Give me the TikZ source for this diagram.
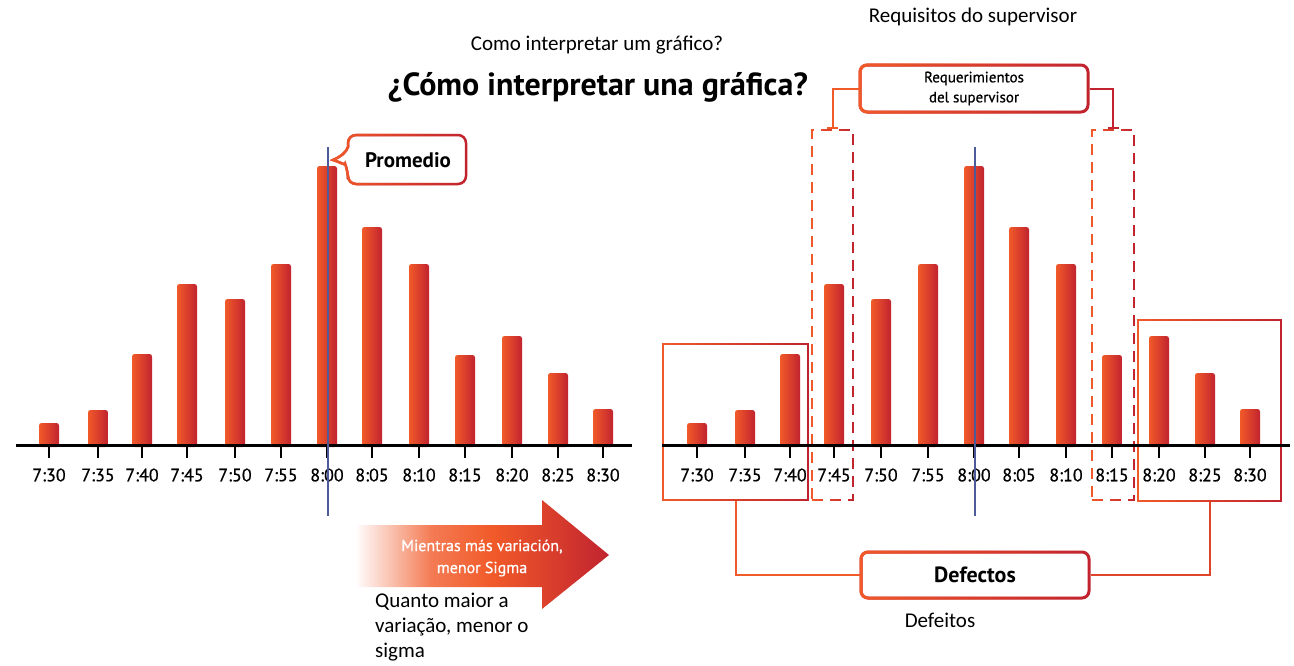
\documentclass[tikz,border=0pt]{standalone}
\usepackage{fontspec}
\setmainfont{PT Sans}
\newfontfamily\calfont{Carlito}
\newfontfamily\medfont[FakeBold=0.7]{PT Sans}
\usetikzlibrary{fadings,arrows.meta}
\definecolor{cO}{HTML}{F15A29}
\definecolor{cR}{HTML}{C1232F}
\definecolor{cM}{HTML}{E0452B}
\definecolor{cL}{HTML}{4D5B99}
\pgfdeclarehorizontalshading{arrsh}{100bp}{color(0bp)=(white); color(25bp)=(white); color(40bp)=(cO!80!white); color(52bp)=(cO); color(75bp)=(cR); color(100bp)=(cR)}
\tikzfading[name=fadeR, left color=transparent!0, right color=transparent!100]
\begin{document}
\begin{tikzpicture}[x=1pt,y=-1pt,
  bar/.style={left color=cO, right color=cR, rounded corners=2.5pt},
  tickline/.style={line width=2.5pt},
  axisline/.style={line width=3pt},
  lab/.style={font=\medfont\fontsize{18}{18}\selectfont, inner sep=0pt},
  ptxt/.style={font=\calfont\fontsize{21}{25}\selectfont, inner sep=0pt},
  gstroke/.style={draw=cR, postaction={draw=cO, path fading=fadeR}},
  roundbox/.style={gstroke, fill=white, rounded corners=7pt, line width=3pt, inner sep=0pt},
  thinbox/.style={gstroke, line width=2pt, inner sep=0pt},
  dashbox/.style={draw=cR, line width=2pt, dash pattern=on 11pt off 7pt, inner sep=0pt,
     postaction={draw=cO, path fading=fadeR, dash pattern=on 11pt off 7pt}},
  conn/.style={line width=2pt},
  meanline/.style={draw=cL, line width=2pt}
]
\useasboundingbox (0,0) rectangle (1294,665);

% titles
\node[ptxt] (reqpt) at (973,17) {Requisitos do supervisor};
\node[ptxt] (como) at (597,45) {Como interpretar um gráfico?};
\node[font=\bfseries\fontsize{32}{32}\selectfont, inner sep=0pt] (title) at (598,87) {¿Cómo interpretar una gráfica?};

% boxes in right chart
\node[thinbox, minimum width=145pt, minimum height=156pt] (lbox) at (735.5,422) {};
\node[thinbox, minimum width=143pt, minimum height=181pt] (rbox) at (1209.5,410.5) {};
\node[dashbox, minimum width=41pt, minimum height=370pt] (d1) at (832.5,315) {};
\node[dashbox, minimum width=42pt, minimum height=370pt] (d2) at (1113,315) {};

% bars left
\foreach \x/\t/\l in {49/423/7:30, 98/410/7:35, 142/354/7:40, 187/284/7:45, 235/299/7:50, 281/264/7:55, 327/166/8:00, 372/227/8:05, 419/264/8:10, 465/355/8:15, 512/336/8:20, 558/373/8:25, 603/409/8:30}{
  \shade[bar] (\x-10,447) rectangle (\x+10,\t);
  \draw[tickline] (\x,445) -- (\x,458);
  \node[lab] (L\x) at (\x,475) {\l};
}
% bars right
\foreach \x/\t/\l in {697/423/7:30, 745/410/7:35, 790/354/7:40, 834/284/7:45, 881/299/7:50, 928/264/7:55, 974/166/8:00, 1019/227/8:05, 1066/264/8:10, 1112/355/8:15, 1159/336/8:20, 1205/373/8:25, 1250/409/8:30}{
  \shade[bar] (\x-10,447) rectangle (\x+10,\t);
  \draw[tickline] (\x,445) -- (\x,458);
  \node[lab] (R\x) at (\x,475) {\l};
}
\coordinate (axL1) at (16,445);
\coordinate (axL2) at (632,445);
\coordinate (axR1) at (662,445);
\coordinate (axR2) at (1290,445);
\draw[axisline] (axL1) -- (axL2);
\draw[axisline] (axR1) -- (axR2);

% mean lines
\coordinate (mL1) at (328,147);
\coordinate (mL2) at (328,516);
\coordinate (mR1) at (975,147);
\coordinate (mR2) at (975,516);
\draw[meanline] (mL1) -- (mL2);
\draw[meanline] (mR1) -- (mR2);

% Promedio callout
\draw[gstroke, line width=2.5pt, fill=white] (348,147) [rounded corners=8pt] -- (348,135) -- (466,135) -- (466,184) -- (348,184) -- (348,171) [sharp corners] .. controls (346,166) and (340,162) .. (333,160) .. controls (340,157) and (346,153) .. (348,147) -- cycle;
\node[font=\bfseries\fontsize{21}{21}\selectfont, inner sep=0pt] (prom) at (408,160) {Promedio};

% Requerimientos
\node[roundbox, minimum width=228pt, minimum height=47pt, align=center, font=\medfont\fontsize{15}{20}\selectfont] (req) at (974,88.5) {Requerimientos\\del supervisor};
\draw[conn, draw=cO, -{Bar[width=11pt]}] (req.west) -| (d1.north);
\draw[conn, draw=cR, -{Bar[width=11pt]}] (req.east) -| (d2.north);

% Defectos
\node[roundbox, minimum width=228pt, minimum height=46pt, font=\bfseries\fontsize{22}{22}\selectfont] (def) at (975,575) {Defectos};
\draw[conn, draw=cO] (def.west) -| (lbox.south);
\draw[conn, draw=cM] (def.east) -| (rbox.south);
\node[ptxt] (defpt) at (940,620) {Defeitos};

% arrow
\shade[shading=arrsh] (355,525) -- (542,525) -- (542,500) -- (609,555) -- (542,609) -- (542,587) -- (355,587) -- cycle;
\node[text=white, align=center, font=\medfont\fontsize{16}{22}\selectfont, inner sep=0pt] (mien) at (482,558) {Mientras más variación,\\menor Sigma};
\node[ptxt, anchor=north west, align=left] (quanto) at (375,593) {Quanto maior a\\variação, menor o\\sigma};
\end{tikzpicture}
\end{document}
